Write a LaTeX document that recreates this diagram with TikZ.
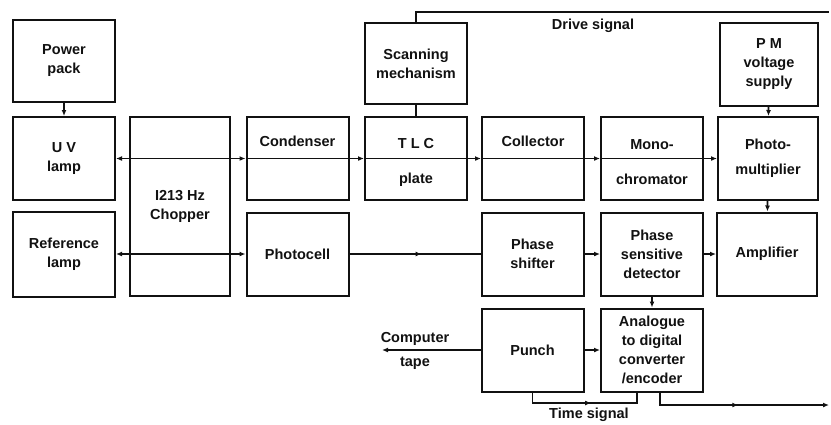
\documentclass[tikz,border=0pt]{standalone}
\usepackage{fontspec}
\setmainfont{Liberation Sans}
\usepackage{tikz}
\usetikzlibrary{
  arrows.meta, calc, positioning, decorations.markings
}
\definecolor{inkdark}{HTML}{111111}
\tikzset{
  % Instrument blocks
  unit/.style={
    draw=inkdark, line width=2pt,
    minimum width=102pt, minimum height=83pt,
    font=\bfseries\fontsize{14.5}{19}\selectfont, text=inkdark,
    align=center, inner sep=2pt,
  },
  % Signal and beam lines
  wire/.style={line width=1.8pt, inkdark},
  arr/.style={-{Latex[length=6pt, width=5pt]}, line width=1.8pt, inkdark},
  arrboth/.style={{Latex[length=6pt, width=5pt]}-{Latex[length=6pt, width=5pt]},
                  line width=1.8pt, inkdark},
  midarr/.style={wire, postaction={decorate},
                 decoration={markings, mark=at position #1 with
                   {\arrow{Latex[length=6pt, width=5pt]}}}},
  % Labels on lines
  siglabel/.style={font=\bfseries\fontsize{14.5}{19}\selectfont, text=inkdark,
                   inner sep=1pt},
}
% top strut for blocks split by the beam
\newcommand{\beamtop}{\rule{0pt}{17pt}}

\begin{document}
\begin{tikzpicture}[x=1pt, y=-1pt]
  \useasboundingbox (0,0) rectangle (831,424);
  % top row
  \node[unit, minimum height=82pt] (pack) at (64,61) {Power\\pack};
  \node[unit, minimum height=81pt] (scan) at (416,63.5) {Scanning\\mechanism};
  \node[unit, minimum width=98pt] (pmv) at (769,64.5) {P M\\voltage\\supply};
  % optical row
  \node[unit] (uv) at (64,158.5) {U V\\lamp};
  \node[unit, minimum width=100pt, minimum height=179pt] (chop) at (180,206.5)
    {I213 Hz\\Chopper};
  \node[unit] (cond) at (297.5,158.5) {\beamtop Condenser\\[16pt]\strut};
  \node[unit] (tlc) at (416,158.5) {\beamtop T L C\\[16pt]plate};
  \node[unit] (coll) at (533,158.5) {\beamtop Collector\\[16pt]\strut};
  \node[unit] (mono) at (652,158.5) {\beamtop Mono-\\[16pt]chromator};
  \node[unit, minimum width=100pt] (pmt) at (768,158.5) {Photo-\\[6pt]multiplier};
  % detection row
  \node[unit, minimum height=85pt] (ref) at (64,254) {Reference\\lamp};
  \node[unit] (photo) at (297.5,254) {Photocell};
  \node[unit] (shift) at (532.5,254) {Phase\\shifter};
  \node[unit] (psd) at (652,254) {Phase\\sensitive\\detector};
  \node[unit, minimum width=100pt] (amp) at (767,254) {Amplifier};
  % output row
  \node[unit] (punch) at (532.5,350) {Punch};
  \node[unit] (adc) at (652,350) {Analogue\\to digital\\converter\\/encoder};

  % beam path
  \draw[arr] (pack) -- (uv);
  \draw[arrboth] (uv.east) -- (cond.west);
  \draw[arr] (cond.west) -- (tlc.west);
  \draw[arr] (tlc.west) -- (coll.west);
  \draw[arr] (coll.west) -- (mono.west);
  \draw[arr] (mono.west) -- (pmt.west);
  \draw[wire] (scan) -- (tlc);
  \draw[arr] (pmv) -- (pmt);
  \draw[arr] (pmt) -- (amp);

  % drive signal
  \coordinate (drvend) at (829,12);
  \draw[wire] (scan.north) |- (drvend);
  \node[siglabel] (drvlbl) at (593,26) {Drive signal};

  % reference channel
  \draw[arrboth] (ref.east) -- (photo.west);
  \draw[midarr=0.55] (photo) -- (shift);
  \draw[arr] (shift) -- (psd);
  \draw[arr] (psd) -- (amp);
  \draw[arr] (psd) -- (adc);
  \draw[arr] (punch) -- (adc);

  % computer tape
  \coordinate (tapeend) at (382,350);
  \draw[arr] (punch) -- (tapeend);
  \node[siglabel] (tapelbl) at (415,339) {Computer};
  \node[siglabel] (tapelbl2) at (415,363) {tape};

  % time signal
  \coordinate (tsl) at (532.5,403);
  \coordinate (tsr) at (637,403);
  \draw[midarr=0.55] (punch.south) -- (tsl) -- (tsr) -- (tsr |- adc.south);
  \node[siglabel] (tslbl) at (589,415) {Time signal};

  % output line
  \coordinate (outd) at (660,405);
  \coordinate (outr) at (829,405);
  \draw[midarr=0.5, -{Latex[length=6pt, width=5pt]}]
    (outd |- adc.south) -- (outd) -- (outr);
\end{tikzpicture}
\end{document}
